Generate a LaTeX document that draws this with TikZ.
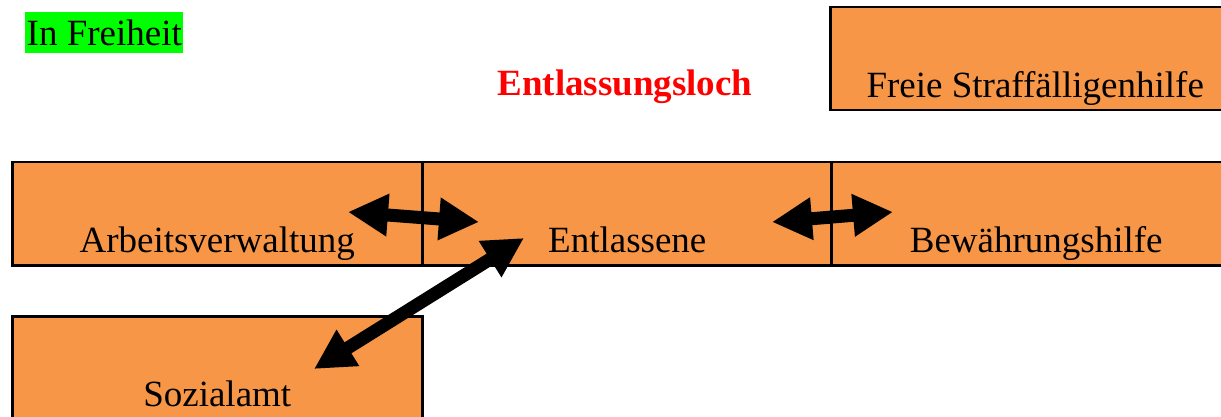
\documentclass[tikz,border=0pt]{standalone}
\usepackage{fontspec}
\setmainfont{Liberation Serif}
\usetikzlibrary{arrows.meta}
\definecolor{boxorange}{RGB}{247,150,70}
\definecolor{tagreen}{RGB}{0,255,0}
\begin{document}
\begin{tikzpicture}[x=1pt,y=-1pt,
  every node/.style={font=\fontsize{37pt}{44pt}\selectfont},
  agency/.style={draw=black, line width=2.5pt, fill=boxorange, inner sep=0pt,
    minimum width=410pt, text height=90pt, text depth=13pt, anchor=north west},
  blockarrow/.style={line width=13pt,
    {Triangle[length=40pt,width=40pt]}-{Triangle[length=40pt,width=40pt]}}]
  \useasboundingbox (0,0) rectangle (1221,417);
  \clip (0,0) rectangle (1221,417);

  % status label
  \node[fill=tagreen, inner xsep=1.5pt, inner ysep=0pt, text height=33pt,
        text depth=8pt, anchor=north west] (frei) at (25,12) {In Freiheit};

  % heading
  \node[anchor=base, text=red, font=\fontsize{37pt}{44pt}\selectfont\bfseries]
       (loch) at (625,96) {Entlassungsloch};

  % agencies
  \node[agency] (fsh)  at (829,6)   {Freie Straffälligenhilfe};
  \node[agency] (arb)  at (11,161)  {Arbeitsverwaltung};
  \node[agency] (entl) at (421,161) {Entlassene};
  \node[agency] (bew)  at (830,161) {Bewährungshilfe};
  \node[agency] (soz)  at (11,315)  {Sozialamt};

  % arrow end points
  \coordinate (a1) at (348,212);
  \coordinate (e1) at (479,222);
  \coordinate (e2) at (772,222);
  \coordinate (b2) at (893,212);
  \coordinate (s3) at (314,369);
  \coordinate (e3) at (524,238);

  % exchanges with the released person
  \draw[blockarrow] (a1) -- (e1);
  \draw[blockarrow] (e2) -- (b2);
  \draw[blockarrow] (s3) -- (e3);
\end{tikzpicture}
\end{document}
